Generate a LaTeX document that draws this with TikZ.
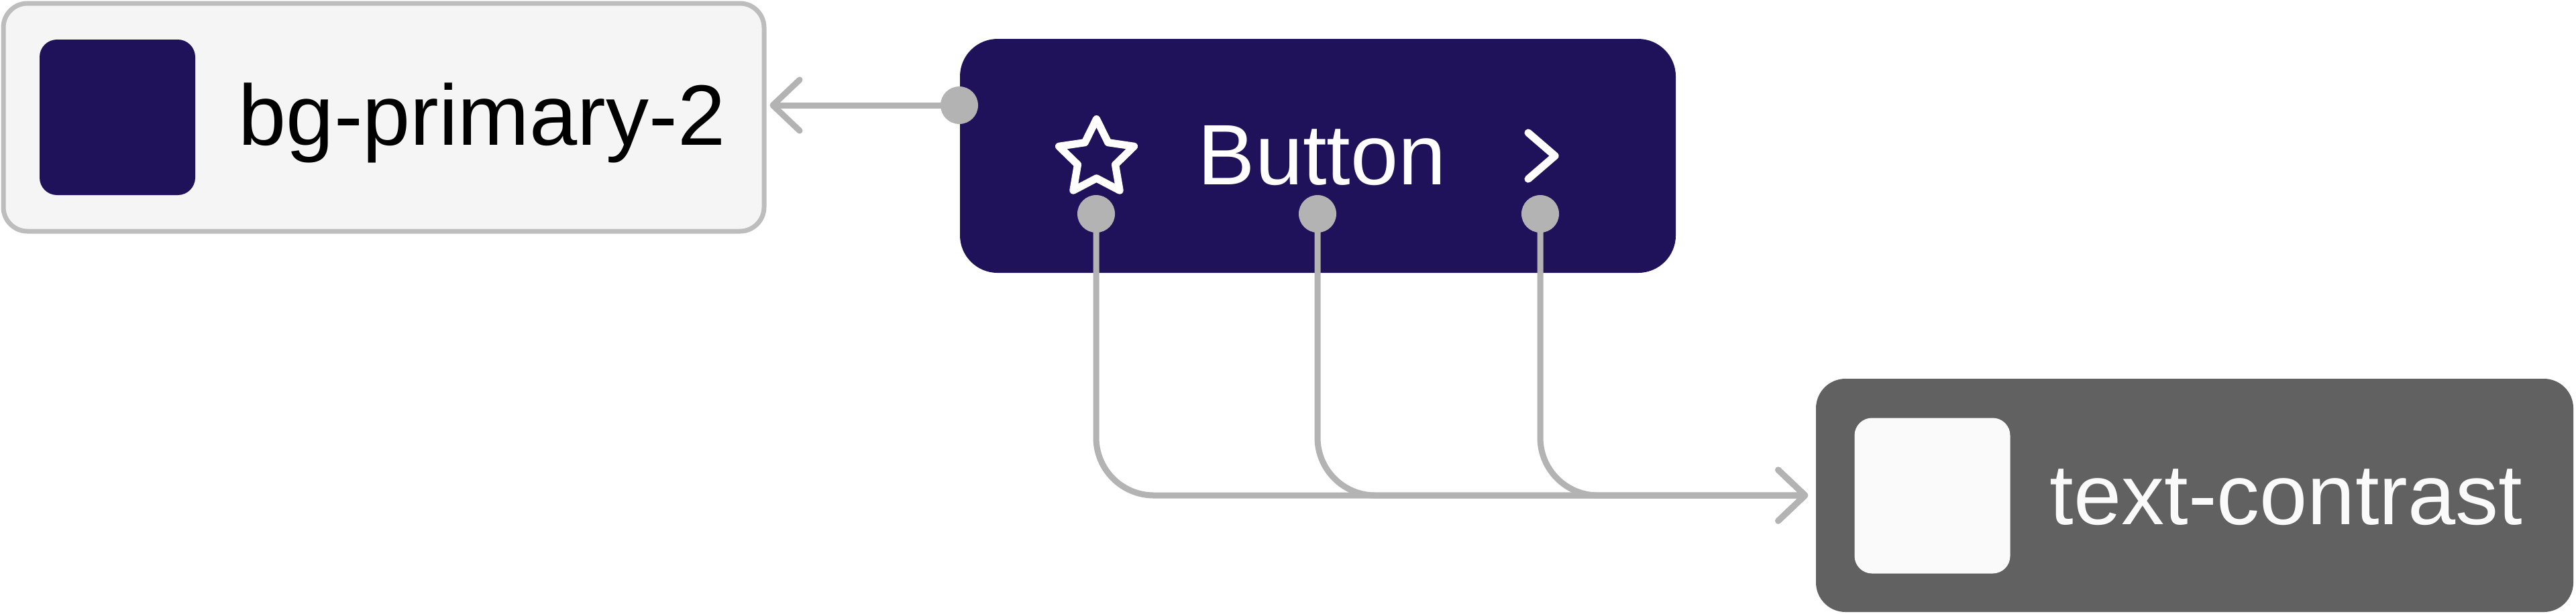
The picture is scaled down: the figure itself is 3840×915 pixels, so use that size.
\documentclass[tikz,border=0pt]{standalone}
\usepackage{fontspec}
\setmainfont{Liberation Sans}
\usetikzlibrary{arrows.meta}
\definecolor{indigo}{HTML}{20115B}
\definecolor{lightbg}{HTML}{F5F5F5}
\definecolor{lborder}{HTML}{BDBDBD}
\definecolor{darkbg}{HTML}{616161}
\definecolor{offwhite}{HTML}{FAFAFA}
\definecolor{portgray}{HTML}{B3B3B3}
\begin{document}
\begin{tikzpicture}[x=0.25pt,y=-0.25pt,
  boxshape/.style={rectangle,inner sep=0pt},
  swatch/.style={rectangle,inner sep=0pt,minimum size=58pt,rounded corners=6.5pt},
  label/.style={anchor=base west,inner sep=0pt,font=\fontsize{32pt}{36pt}\selectfont},
  port/.style={circle,fill=portgray,inner sep=0pt,minimum size=14pt},
  conn/.style={draw=portgray,line width=2.25pt,line cap=round,line join=round,
    -{Straight Barb[length=10pt,width=19pt,round]}},
  icon/.style={draw=white,line width=2.8pt,line cap=round,line join=round}]
\fill[white] (0,0) rectangle (3840,915);
\useasboundingbox (0,0) rectangle (3840,915);

% boxes
\node[boxshape,fill=lightbg,draw=lborder,line width=1.75pt,minimum width=283.5pt,minimum height=85pt,rounded corners=9pt] (lbox) at (572,175) {};
\node[swatch,fill=indigo] (lsw) at (175,175) {};
\node[label,text=black] (ltext) at (355,216) {bg-primary-2};

\node[boxshape,fill=indigo,minimum width=266.75pt,minimum height=87.25pt,rounded corners=14pt] (btn) at (1964.5,232.5) {};
\node[label,text=white] (btext) at (1785,275) {Button};
% star icon
\begin{scope}[shift={(1567.3,166.4)},x=1.4pt,y=-1.4pt]
\draw[icon] (12,2) -- (15.09,8.26) -- (22,9.27) -- (17,14.14) -- (18.18,21.02) -- (12,17.77) -- (5.82,21.02) -- (7,14.14) -- (2,9.27) -- (8.91,8.26) -- cycle;
\end{scope}
% chevron icon
\draw[icon] (2278,198) -- (2318,232.5) -- (2278,267);

\node[boxshape,fill=darkbg,minimum width=282.25pt,minimum height=87pt,rounded corners=11pt] (tbox) at (3271.5,739) {};
\node[swatch,fill=offwhite] (tsw) at (2880.5,739.5) {};
\node[label,text=offwhite] (ttext) at (3055,782) {text-contrast};

% port positions
\coordinate (pL) at (1430,157);
\coordinate (p1) at (1634,319);
\coordinate (p2) at (1964,319);
\coordinate (p3) at (2296,319);

% connectors
\draw[conn,shorten >=1.25pt] (pL) -- (lbox.east |- pL);
\draw[conn,rounded corners=21.5pt,shorten >=2.75pt] (p1) |- (tbox.west);
\draw[conn,rounded corners=21.5pt,shorten >=2.75pt] (p2) |- (tbox.west);
\draw[conn,rounded corners=21.5pt,shorten >=2.75pt] (p3) |- (tbox.west);

% ports
\node[port] (portL) at (pL) {};
\node[port] (port1) at (p1) {};
\node[port] (port2) at (p2) {};
\node[port] (port3) at (p3) {};
\end{tikzpicture}
\end{document}
